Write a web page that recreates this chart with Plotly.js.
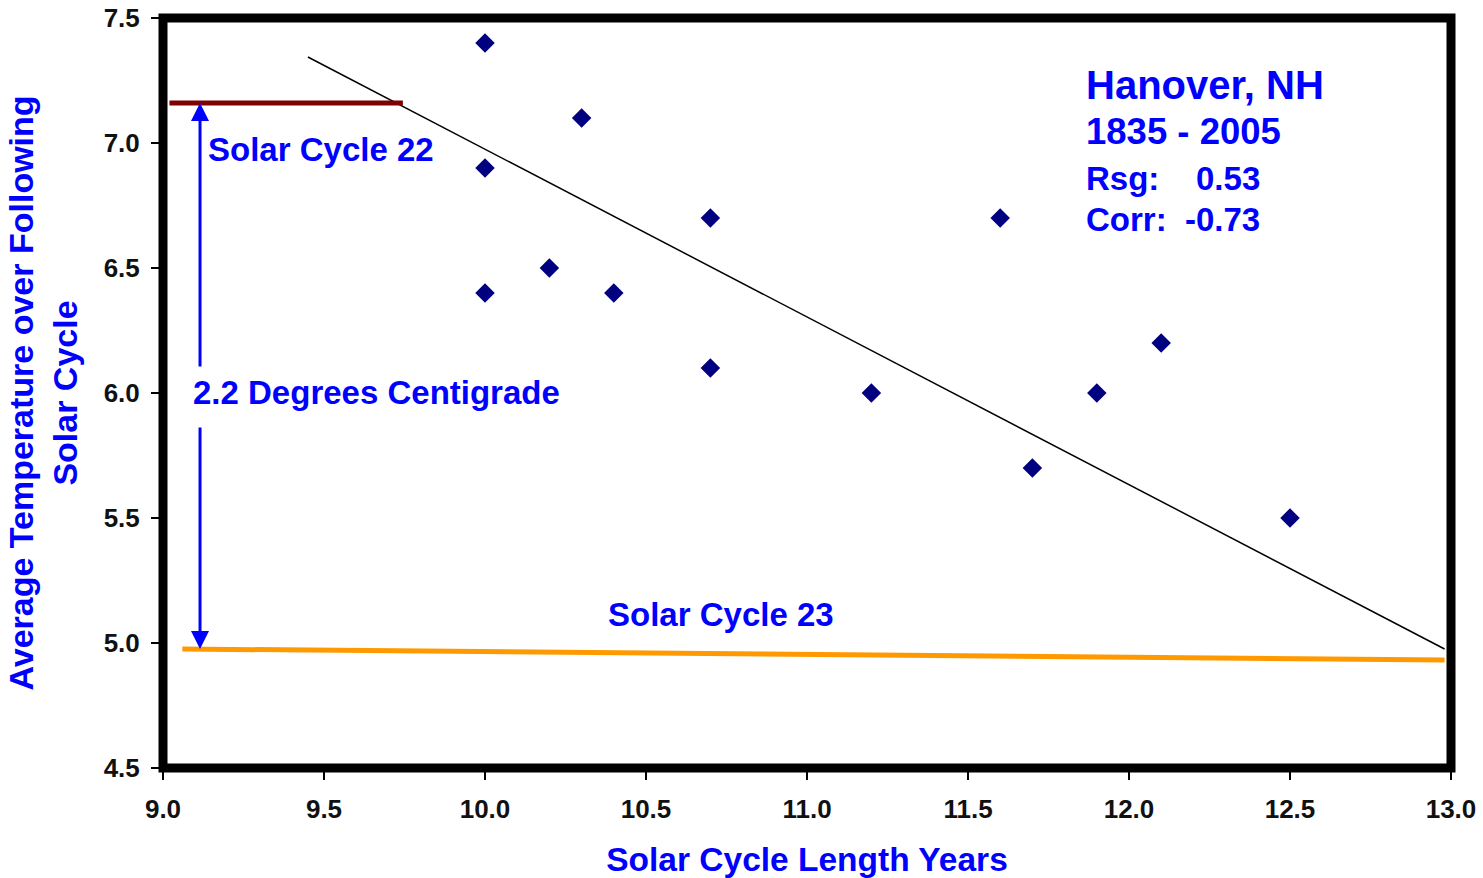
<!DOCTYPE html>
<html>
<head>
<meta charset="utf-8">
<script src="https://cdn.plot.ly/plotly-3.0.1.min.js"></script>
<style>html,body{margin:0;padding:0;background:#fff;}</style>
</head>
<body>
<div id="chart" style="width:1483px;height:878px;"></div>
<script>
// Data
const cycleLength = [10.0, 10.3, 10.0, 10.7, 11.6, 10.2, 10.0, 10.4, 10.7, 12.1, 11.2, 11.9, 11.7, 12.5];
const avgTemp     = [7.4,  7.1,  6.9,  6.7,  6.7,  6.5,  6.4,  6.4,  6.1,  6.2,  6.0,  6.0,  5.7,  5.5];
const trendX = [9.45, 12.98];
const trendY = [7.344, 4.976];
const cycle22X = [9.02, 9.745];
const cycle22Y = [7.16, 7.16];
const cycle23X = [9.06, 12.98];
const cycle23Y = [4.976, 4.932];
const xTicks = [9.0, 9.5, 10.0, 10.5, 11.0, 11.5, 12.0, 12.5, 13.0];
const yTicks = [4.5, 5.0, 5.5, 6.0, 6.5, 7.0, 7.5];

const BLUE = '#0000FF';
const FONT = 'Liberation Sans, Arial, sans-serif';

const traces = [
  {x: trendX, y: trendY, mode: 'lines', line: {color: '#000000', width: 1.5}, hoverinfo: 'skip'},
  {x: cycle22X, y: cycle22Y, mode: 'lines', line: {color: '#800000', width: 5}, hoverinfo: 'skip'},
  {x: cycle23X, y: cycle23Y, mode: 'lines', line: {color: '#FF9900', width: 5}, hoverinfo: 'skip'},
  {x: cycleLength, y: avgTemp, mode: 'markers', marker: {symbol: 'diamond', size: 15, color: '#000080'}}
];

const arrowX = 9.115;
const annFont = (s) => ({family: FONT, size: s, color: BLUE, weight: 'bold'});
const tickFont = {family: FONT, size: 26, color: '#111', weight: 'bold'};

const layout = {
  width: 1483, height: 878,
  margin: {l: 163, r: 32, t: 18, b: 110},
  paper_bgcolor: '#ffffff', plot_bgcolor: '#ffffff',
  showlegend: false,
  xaxis: {
    range: [9.0, 13.0], tickvals: xTicks, ticktext: xTicks.map(v => v.toFixed(1)),
    showgrid: false, zeroline: false, showline: false,
    ticks: 'outside', ticklen: 11, tickwidth: 1.5, tickcolor: '#000',
    ticklabelstandoff: 7,
    tickfont: tickFont,
    title: {text: 'Solar Cycle Length Years', font: {family: FONT, size: 33.5, color: BLUE, weight: 'bold'}, standoff: 30}
  },
  yaxis: {
    range: [4.5, 7.5], tickvals: yTicks, ticktext: yTicks.map(v => v.toFixed(1)),
    showgrid: false, zeroline: false, showline: false,
    ticks: 'outside', ticklen: 11, tickwidth: 1.5, tickcolor: '#000',
    ticklabelstandoff: 6,
    tickfont: tickFont,
    title: {text: 'Average Temperature over Following<br>Solar Cycle', font: {family: FONT, size: 34, color: BLUE, weight: 'bold'}, standoff: 15}
  },
  shapes: [
    {type: 'rect', xref: 'paper', yref: 'paper', x0: 0, x1: 1, y0: 0, y1: 1,
     line: {color: '#000000', width: 9}, fillcolor: 'rgba(0,0,0,0)', layer: 'above'}
  ],
  annotations: [
    {x: arrowX, y: 7.16, ax: arrowX, ay: 6.1, xref: 'x', yref: 'y', axref: 'x', ayref: 'y',
     text: '', showarrow: true, arrowhead: 2, arrowsize: 1.2, arrowwidth: 3, arrowcolor: BLUE},
    {x: arrowX, y: 4.976, ax: arrowX, ay: 5.868, xref: 'x', yref: 'y', axref: 'x', ayref: 'y',
     text: '', showarrow: true, arrowhead: 2, arrowsize: 1.2, arrowwidth: 3, arrowcolor: BLUE},
    {x: 9.135, y: 6.976, xref: 'x', yref: 'y', xanchor: 'left', yanchor: 'middle', showarrow: false,
     text: 'Solar Cycle 22', font: annFont(33)},
    {x: 9.087, y: 6.004, xref: 'x', yref: 'y', xanchor: 'left', yanchor: 'middle', showarrow: false,
     text: '2.2 Degrees Centigrade', font: annFont(33)},
    {x: 10.733, y: 5.116, xref: 'x', yref: 'y', xanchor: 'center', yanchor: 'middle', showarrow: false,
     text: 'Solar Cycle 23', font: annFont(33)},
    {x: 11.861, y: 7.232, xref: 'x', yref: 'y', xanchor: 'left', yanchor: 'middle', showarrow: false,
     text: 'Hanover, NH', font: annFont(40)},
    {x: 11.861, y: 7.048, xref: 'x', yref: 'y', xanchor: 'left', yanchor: 'middle', showarrow: false,
     text: '1835 - 2005', font: annFont(36.5)},
    {x: 11.861, y: 6.86, xref: 'x', yref: 'y', xanchor: 'left', yanchor: 'middle', showarrow: false,
     text: 'Rsg:\u00a0\u00a0\u00a0\u00a00.53', font: annFont(33)},
    {x: 11.861, y: 6.696, xref: 'x', yref: 'y', xanchor: 'left', yanchor: 'middle', showarrow: false,
     text: 'Corr:\u00a0\u00a0-0.73', font: annFont(33)}
  ]
};

Plotly.newPlot('chart', traces, layout, {displayModeBar: false, staticPlot: true});
</script>
</body>
</html>
